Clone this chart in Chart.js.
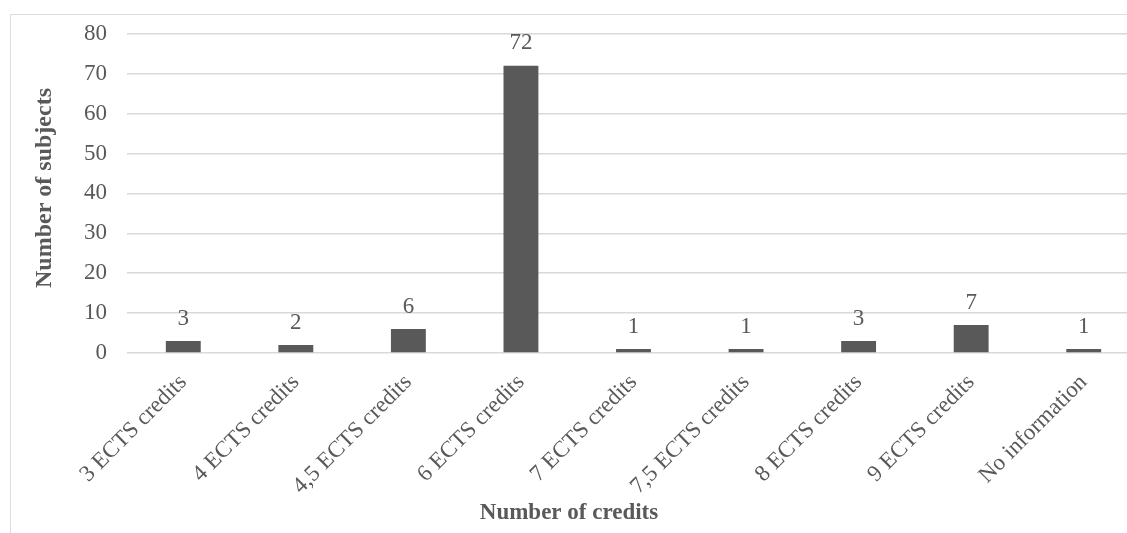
<!DOCTYPE html>
<html>
<head>
<meta charset="utf-8">
<script src="https://cdn.jsdelivr.net/npm/chart.js@4/dist/chart.umd.min.js"></script>
<style>
  html, body { margin: 0; padding: 0; background: #fff; overflow: hidden; width: 1127px; height: 533px; }
  #frame { position: absolute; left: 10px; top: 14px; width: 1200px; height: 600px; border: 1px solid #dedede; box-sizing: border-box; }
  #wrap { position: absolute; left: 0; top: 0; width: 1140px; height: 533px; }
</style>
</head>
<body>
<div id="frame"></div>
<div id="wrap"><canvas id="c" width="1140" height="533"></canvas></div>
<script>
const categories = ["3 ECTS credits", "4 ECTS credits", "4,5 ECTS credits", "6 ECTS credits", "7 ECTS credits", "7,5 ECTS credits", "8 ECTS credits", "9 ECTS credits", "No information"];
const subjects = [3, 2, 6, 72, 1, 1, 3, 7, 1];
const yTicks = [0, 10, 20, 30, 40, 50, 60, 70, 80];
const xTitle = "Number of credits";
const yTitle = "Number of subjects";

const FONT = "'Liberation Serif', 'Times New Roman', serif";
const GREY = "#595959";

const labelsPlugin = {
  id: 'extras',
  afterDatasetsDraw(chart) {
    const ctx = chart.ctx;
    const meta = chart.getDatasetMeta(0);
    ctx.save();
    ctx.fillStyle = GREY;
    ctx.font = "23px " + FONT;
    ctx.textAlign = "center";
    ctx.textBaseline = "bottom";
    meta.data.forEach((bar, i) => {
      ctx.fillText(String(subjects[i]), bar.x, bar.y - 11);
    });
    ctx.font = "bold 23px " + FONT;
    ctx.textBaseline = "middle";
    ctx.fillText(xTitle, 569, 513);
    ctx.font = "bold 24px " + FONT;
    ctx.translate(45, 188);
    ctx.rotate(-Math.PI / 2);
    ctx.fillText(yTitle, 0, 0);
    ctx.restore();
  }
};

new Chart(document.getElementById('c'), {
  type: 'bar',
  data: {
    labels: categories,
    datasets: [{
      data: subjects,
      backgroundColor: GREY,
      barPercentage: 0.31,
      categoryPercentage: 1.0
    }]
  },
  options: {
    responsive: false,
    animation: false,
    events: [],
    layout: { padding: { left: 0, right: 0, top: 33, bottom: 0 } },
    plugins: { legend: { display: false }, tooltip: { enabled: false } },
    scales: {
      x: {
        offset: true,
        grid: { display: false, drawTicks: false },
        border: { display: false },
        ticks: {
          color: GREY,
          font: { family: FONT, size: 23 },
          maxRotation: 45,
          minRotation: 45,
          padding: 16,
          autoSkip: false
        },
        afterFit(scale) { scale.height = 180; }
      },
      y: {
        min: 0,
        max: 80,
        afterBuildTicks(scale) { scale.ticks = yTicks.map(v => ({ value: v })); },
        grid: { color: "#d9d9d9", lineWidth: 1.5, drawTicks: false },
        border: { display: false },
        ticks: {
          color: GREY,
          font: { family: FONT, size: 23 },
          padding: 20
        },
        afterFit(scale) { scale.width = 127; }
      }
    }
  },
  plugins: [labelsPlugin]
});
</script>
</body>
</html>
